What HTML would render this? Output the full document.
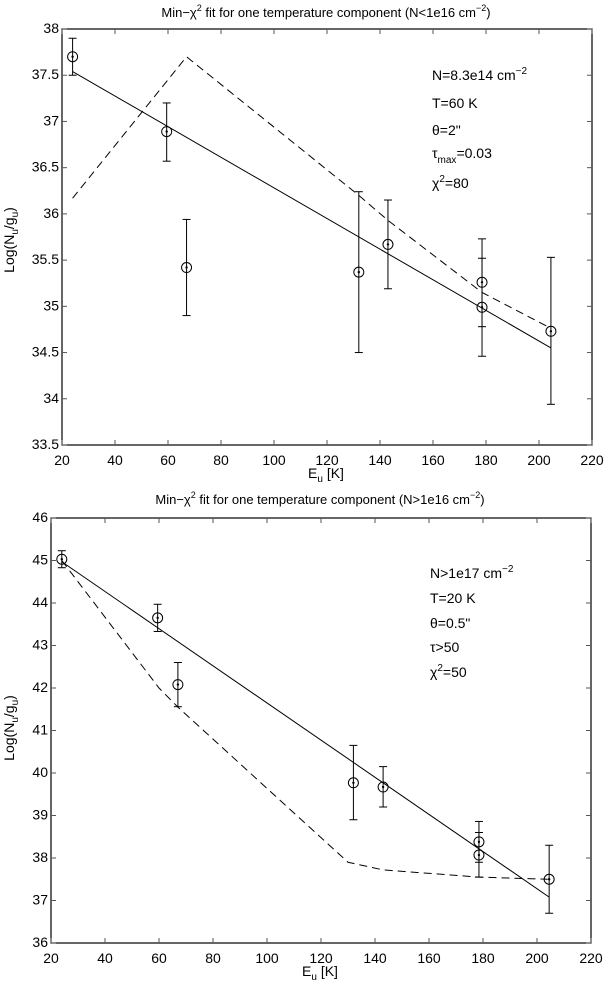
<!DOCTYPE html>
<html><head><meta charset="utf-8"><style>
body{margin:0;background:#fff}
svg{display:block;font-family:"Liberation Sans",sans-serif}
</style></head><body>
<svg id="chart" width="604" height="986" xmlns="http://www.w3.org/2000/svg"></svg>
<script>
// ---- data: top panel ----
const xTicks=[20,40,60,80,100,120,140,160,180,200,220];
const topYTicks=[33.5,34,34.5,35,35.5,36,36.5,37,37.5,38];
const topPtsX=[24,59.5,67,132,143,178.5,178.5,204.5];
const topPtsY=[37.7,36.89,35.42,35.37,35.67,35.26,34.99,34.73];
const topErrHi=[37.9,37.2,35.94,36.24,36.15,35.73,35.52,35.53];
const topErrLo=[37.5,36.57,34.9,34.5,35.19,34.78,34.46,33.94];
const topFitX=[24,204.5];
const topFitY=[37.54,34.55];
const topModelX=[24,67,132,143,178.5,204];
const topModelY=[36.17,37.7,36.2,35.93,35.15,34.77];
// ---- data: bottom panel ----
const botYTicks=[36,37,38,39,40,41,42,43,44,45,46];
const botPtsX=[24,59.5,67,132,143,178.5,178.5,204.5];
const botPtsY=[45.03,43.65,42.08,39.77,39.67,38.38,38.07,37.5];
const botErrHi=[45.23,43.97,42.6,40.65,40.15,38.86,38.6,38.3];
const botErrLo=[44.83,43.33,41.56,38.9,39.2,37.9,37.55,36.7];
const botFitX=[24,204.5];
const botFitY=[44.97,37.08];
const botModelX=[24,60,67,130,143,178.5,204];
const botModelY=[45.0,42.0,41.55,37.9,37.72,37.55,37.5];

const NS="http://www.w3.org/2000/svg";
const svg=document.getElementById('chart');
function mk(tag,attrs,parent){const e=document.createElementNS(NS,tag);for(const k in attrs)e.setAttribute(k,attrs[k]);(parent||svg).appendChild(e);return e;}

function panel(cfg){
  const g=mk('g',{});
  
  
  const sx=v=>cfg.x0+(v-20)*(cfg.x1-cfg.x0)/200;
  const sy=v=>cfg.y1-(v-cfg.ymin)*(cfg.y1-cfg.y0)/(cfg.ymax-cfg.ymin);
  const frame=mk('rect',{x:cfg.x0,y:cfg.y0,width:cfg.x1-cfg.x0,height:cfg.y1-cfg.y0,fill:'none',stroke:'#000','stroke-width':1.2},g);
  
  
  xTicks.forEach(t=>{
    const x=sx(t);
    mk('line',{x1:x,x2:x,y1:cfg.y1,y2:cfg.y1-5,stroke:'#555'},g);
    mk('line',{x1:x,x2:x,y1:cfg.y0,y2:cfg.y0+5,stroke:'#555'},g);
    const tx=mk('text',{x:x,y:cfg.y1+20,'font-size':14,'text-anchor':'middle'},g);
    tx.textContent=t;
    
    
  });
  cfg.yTicks.forEach(t=>{
    const y=sy(t);
    mk('line',{x1:cfg.x0,x2:cfg.x0+5,y1:y,y2:y,stroke:'#555'},g);
    mk('line',{x1:cfg.x1,x2:cfg.x1-5,y1:y,y2:y,stroke:'#555'},g);
    const tx=mk('text',{x:cfg.x0-3,y:y+4,'font-size':14,'text-anchor':'end'},g);
    tx.textContent=t;
    
    
  });
  const fit=mk('polyline',{points:cfg.fitX.map((v,i)=>sx(v)+','+sy(cfg.fitY[i])).join(' '),fill:'none',stroke:'#000','stroke-width':1},g);
  
  
  const mod=mk('polyline',{points:cfg.modX.map((v,i)=>sx(v)+','+sy(cfg.modY[i])).join(' '),fill:'none',stroke:'#000','stroke-width':1,'stroke-dasharray':'8,5'},g);
  
  
  cfg.px.forEach((v,i)=>{
    const x=sx(v),y=sy(cfg.py[i]),yh=sy(cfg.hi[i]),yl=sy(cfg.lo[i]);
    const pg=mk('g',{},g);
    
    
    mk('line',{x1:x,x2:x,y1:yh,y2:yl,stroke:'#000'},pg);
    mk('line',{x1:x-4,x2:x+4,y1:yh,y2:yh,stroke:'#000'},pg);
    mk('line',{x1:x-4,x2:x+4,y1:yl,y2:yl,stroke:'#000'},pg);
    mk('circle',{cx:x,cy:y,r:5,fill:'none',stroke:'#000'},pg);
    mk('circle',{cx:x,cy:y,r:1.2,fill:'#000'},pg);
  });
}
panel({name:'top-panel',x0:62,x1:592,y0:29,y1:445,ymin:33.5,ymax:38,yTicks:topYTicks,px:topPtsX,py:topPtsY,hi:topErrHi,lo:topErrLo,fitX:topFitX,fitY:topFitY,modX:topModelX,modY:topModelY});
panel({name:'bottom-panel',x0:51,x1:591,y0:518,y1:943,ymin:36,ymax:46,yTicks:botYTicks,px:botPtsX,py:botPtsY,hi:botErrHi,lo:botErrLo,fitX:botFitX,fitY:botFitY,modX:botModelX,modY:botModelY});
</script>
<svg style="position:absolute;left:0;top:0" width="604" height="986" xmlns="http://www.w3.org/2000/svg" font-family="Liberation Sans, sans-serif" font-size="14">
<text x="326" y="17" text-anchor="middle" font-size="13">Min−χ<tspan dy="-6" font-size="9">2</tspan><tspan dy="6"> fit for one temperature component (N&lt;1e16 cm</tspan><tspan dy="-6" font-size="9">−2</tspan><tspan dy="6">)</tspan></text>
<text x="326" y="478" text-anchor="middle">E<tspan dy="4" font-size="10">u</tspan><tspan dy="-4"> [K]</tspan></text>
<text transform="translate(14,240) rotate(-90)" text-anchor="middle">Log(N<tspan dy="4" font-size="10">u</tspan><tspan dy="-4">/g</tspan><tspan dy="4" font-size="10">u</tspan><tspan dy="-4">)</tspan></text>
<g>
<text x="432" y="80">N=8.3e14 cm<tspan dy="-6" font-size="10">−2</tspan></text>
<text x="432" y="108">T=60 K</text>
<text x="432" y="135">θ=2"</text>
<text x="432" y="158">τ<tspan dy="5" font-size="10">max</tspan><tspan dy="-5">=0.03</tspan></text>
<text x="432" y="188">χ<tspan dy="-6" font-size="10">2</tspan><tspan dy="6">=80</tspan></text>
</g>
<text x="320" y="504" text-anchor="middle" font-size="13">Min−χ<tspan dy="-6" font-size="9">2</tspan><tspan dy="6"> fit for one temperature component (N&gt;1e16 cm</tspan><tspan dy="-6" font-size="9">−2</tspan><tspan dy="6">)</tspan></text>
<text x="320" y="976" text-anchor="middle">E<tspan dy="4" font-size="10">u</tspan><tspan dy="-4"> [K]</tspan></text>
<text transform="translate(14,728) rotate(-90)" text-anchor="middle">Log(N<tspan dy="4" font-size="10">u</tspan><tspan dy="-4">/g</tspan><tspan dy="4" font-size="10">u</tspan><tspan dy="-4">)</tspan></text>
<g>
<text x="430" y="578">N&gt;1e17 cm<tspan dy="-6" font-size="10">−2</tspan></text>
<text x="430" y="603">T=20 K</text>
<text x="430" y="628">θ=0.5"</text>
<text x="430" y="652">τ&gt;50</text>
<text x="430" y="677">χ<tspan dy="-6" font-size="10">2</tspan><tspan dy="6">=50</tspan></text>
</g>
</svg>
</body></html>
